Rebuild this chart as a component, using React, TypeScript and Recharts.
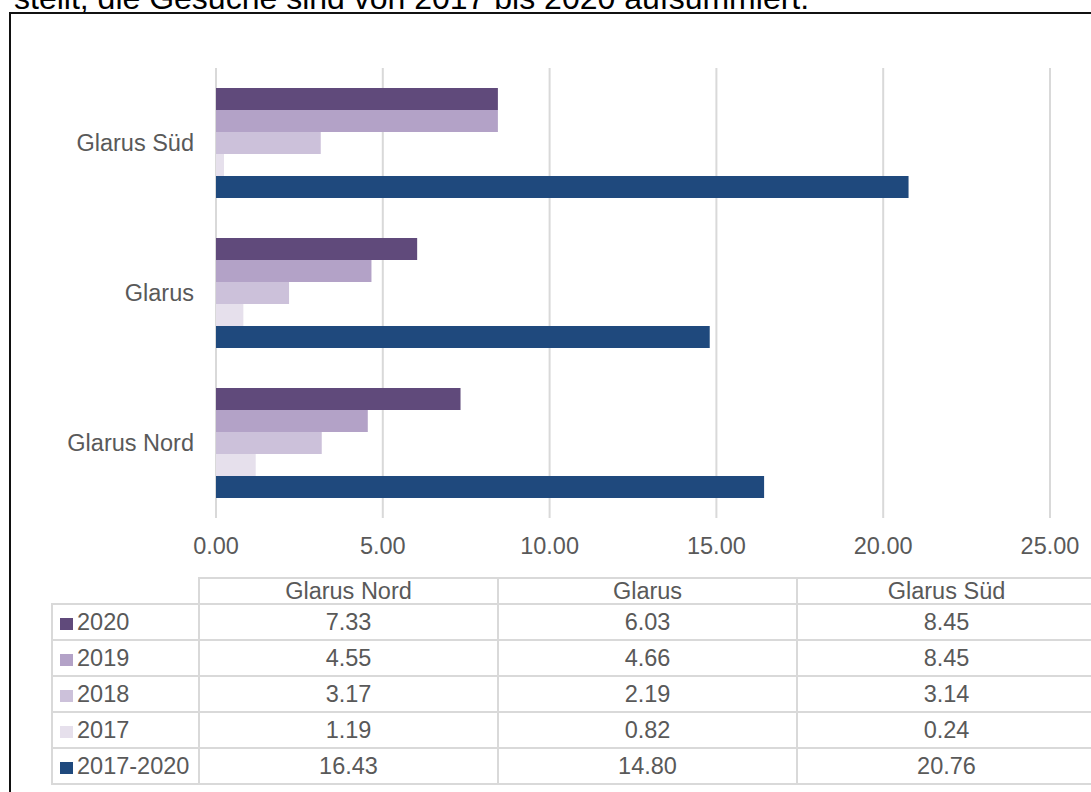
import React from "react";
import { Bar, BarChart, CartesianGrid, XAxis, YAxis } from "recharts";

const categories = ["Glarus Nord", "Glarus", "Glarus Süd"];
const values2020 = [7.33, 6.03, 8.45];
const values2019 = [4.55, 4.66, 8.45];
const values2018 = [3.17, 2.19, 3.14];
const values2017 = [1.19, 0.82, 0.24];
const valuesTotal = [16.43, 14.8, 20.76];
const xTicks = [0, 5, 10, 15, 20, 25];

const series = [
  { key: "2020", values: values2020, color: "#604a7b" },
  { key: "2019", values: values2019, color: "#b3a2c7" },
  { key: "2018", values: values2018, color: "#ccc1da" },
  { key: "2017", values: values2017, color: "#e6e0ec" },
  { key: "2017-2020", values: valuesTotal, color: "#1f497d" },
];

const data = categories.map((name, i) => {
  const row: Record<string, string | number> = { name };
  series.forEach((s) => {
    row[s.key] = s.values[i];
  });
  return row;
});

const font = "'Liberation Sans', Arial, sans-serif";
const textColor = "#595959";
const lineColor = "#d9d9d9";

const cell: React.CSSProperties = {
  border: `2px solid ${lineColor}`,
  padding: 0,
  textAlign: "center",
  whiteSpace: "nowrap",
  overflow: "hidden",
};

export default function App() {
  return (
    <div
      style={{
        position: "absolute",
        left: 0,
        top: 0,
        width: 1091,
        height: 792,
        overflow: "hidden",
        background: "#fff",
        fontFamily: font,
      }}
    >
      {/* cut-off sentence from the page above the chart */}
      <div
        style={{
          position: "absolute",
          left: 14,
          top: -18,
          fontSize: 32,
          lineHeight: "32px",
          color: "#000",
          whiteSpace: "nowrap",
        }}
      >
        stellt, die Gesuche sind von 2017 bis 2020 aufsummiert.
      </div>
      <div
        style={{
          position: "absolute",
          left: 9,
          top: 12,
          width: 1200,
          height: 900,
          border: "2px solid #111",
        }}
      />

      <div style={{ position: "absolute", left: 0, top: 0 }}>
        <BarChart
          width={1091}
          height={570}
          data={data}
          layout="vertical"
          margin={{ top: 68, right: 41, bottom: 0, left: 0 }}
          barCategoryGap={20}
          barGap={0}
        >
          <CartesianGrid
            horizontal={false}
            stroke={lineColor}
            strokeWidth={2}
          />
          <XAxis
            type="number"
            domain={[0, 25]}
            ticks={xTicks}
            tickFormatter={(v: number) => v.toFixed(2)}
            axisLine={false}
            tickLine={false}
            tickSize={0}
            tickMargin={19}
            height={52}
            tick={{ fill: textColor, fontSize: 23.5, fontFamily: font }}
          />
          <YAxis
            type="category"
            dataKey="name"
            reversed
            axisLine={false}
            tickLine={false}
            tickSize={0}
            tickMargin={22}
            width={216}
            tick={{ fill: textColor, fontSize: 23.5, fontFamily: font }}
          />
          {series.map((s) => (
            <Bar
              key={s.key}
              dataKey={s.key}
              fill={s.color}
              isAnimationActive={false}
            />
          ))}
        </BarChart>
      </div>

      <table
        style={{
          position: "absolute",
          left: 51,
          top: 577,
          borderCollapse: "collapse",
          tableLayout: "fixed",
          width: 1046,
          fontFamily: font,
          fontSize: 23.5,
          color: textColor,
        }}
      >
        <colgroup>
          <col style={{ width: 147 }} />
          <col style={{ width: 299 }} />
          <col style={{ width: 299 }} />
          <col style={{ width: 299 }} />
        </colgroup>
        <tbody>
          <tr style={{ height: 26 }}>
            <td style={{ ...cell, border: "none" }} />
            {categories.map((c) => (
              <td key={c} style={{ ...cell, lineHeight: "22px" }}>
                {c}
              </td>
            ))}
          </tr>
          {series.map((s) => (
            <tr key={s.key} style={{ height: 36 }}>
              <td style={{ ...cell, textAlign: "left", paddingLeft: 7 }}>
                <span
                  style={{
                    display: "inline-block",
                    width: 13,
                    height: 12,
                    background: s.color,
                    marginRight: 4,
                  }}
                />
                {s.key}
              </td>
              {s.values.map((v, i) => (
                <td key={i} style={cell}>
                  {v.toFixed(2)}
                </td>
              ))}
            </tr>
          ))}
        </tbody>
      </table>
    </div>
  );
}
